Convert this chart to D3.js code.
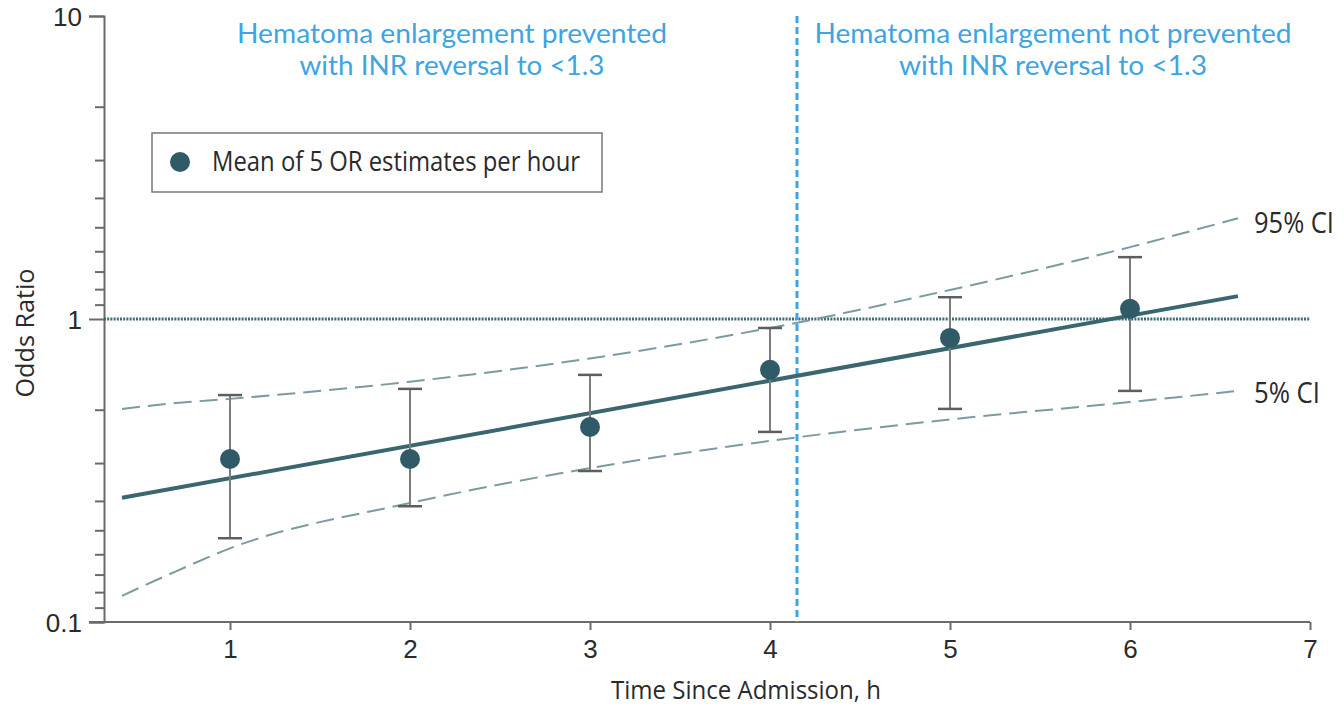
<!DOCTYPE html>
<html>
<head>
<meta charset="utf-8">
<script src="https://cdn.jsdelivr.net/npm/d3@7"></script>
<style>
  html, body { margin: 0; padding: 0; background: #fff; }
  svg { display: block; font-family: "Open Sans", "Noto Sans", sans-serif; }
  .title { font-family: Lato, "Open Sans", sans-serif; }
</style>
</head>
<body>
<svg id="chart" width="1344" height="706"></svg>
<script>
// Hours since admission with the mean OR per hour and its error bar range
const hours = [1, 2, 3, 4, 5, 6];
const meanOR = [0.345, 0.345, 0.44, 0.68, 0.866, 1.08];
const barLow = [0.189, 0.241, 0.315, 0.424, 0.505, 0.579];
const barHigh = [0.561, 0.588, 0.654, 0.934, 1.18, 1.6];

// Fitted trend (linear in log odds) at its two ends
const fitHours = [0.4, 6.6];
const fitOR = [0.257, 1.19];

// Confidence band curves
const bandHours = [0.4, 0.7, 1, 2, 3, 4, 5, 6, 6.6];
const ci95 = [0.505, 0.528, 0.545, 0.621, 0.741, 0.934, 1.247, 1.727, 2.15];
const ci5 = [0.122, 0.147, 0.175, 0.247, 0.322, 0.396, 0.466, 0.532, 0.579];

// Cut-off hour separating the two regions
const cutoffHour = 4.15;

// Axis ticks
const xTicks = [1, 2, 3, 4, 5, 6, 7];
const yMajorTicks = [0.1, 1, 10];
const yMajorLabels = ["0.1", "1", "10"];
const yMinorTicks = [10/2, 10/3, 10/4, 10/5, 10/6, 10/7, 10/8, 10/9,
                     1/2, 1/3, 1/4, 1/5, 1/6, 1/7, 1/8, 1/9];

const regionTitles = [
  ["Hematoma enlargement prevented", "with INR reversal to <1.3"],
  ["Hematoma enlargement not prevented", "with INR reversal to <1.3"]
];
const legendLabel = "Mean of 5 OR estimates per hour";

const svg = d3.select("#chart");
const x = d3.scaleLinear().domain([0.3, 7]).range([104, 1310]);
const y = d3.scaleLog().domain([0.1, 10]).range([622, 16]);

const teal = "#2f5a66";
const blue = "#3ea4e2";
const axisGrey = "#6a6a6a";
const textDark = "#2a2a2a";

// helper: text that is fitted to a given width
function fitText(sel, width) {
  sel.attr("textLength", width).attr("lengthAdjust", "spacingAndGlyphs");
  return sel;
}

// Y axis (log, major + minor ticks)
const yAxis = svg.append("g").attr("transform", `translate(${x(0.3)},0)`);
yAxis.call(d3.axisLeft(y).tickValues(yMajorTicks).tickSize(15)
  .tickFormat((d, i) => yMajorLabels[i]).tickPadding(7));
yAxis.selectAll(".domain").attr("stroke", axisGrey).attr("stroke-width", 2);
yAxis.selectAll(".tick line").attr("stroke", axisGrey).attr("stroke-width", 2);
yAxis.selectAll(".tick text").attr("fill", textDark)
  .style("font-size", "26px").attr("dy", "0.36em");
yAxis.selectAll(".minor").data(yMinorTicks).enter().append("line")
  .attr("class", "minor")
  .attr("x1", -9).attr("x2", 0)
  .attr("y1", d => y(d)).attr("y2", d => y(d))
  .attr("stroke", axisGrey).attr("stroke-width", 2);

// X axis
const xAxis = svg.append("g").attr("transform", `translate(0,${y(0.1)})`);
xAxis.call(d3.axisBottom(x).tickValues(xTicks).tickSize(8).tickPadding(10)
  .tickFormat(d3.format("d")));
xAxis.selectAll(".domain").attr("stroke", axisGrey).attr("stroke-width", 2)
  .attr("d", `M${x(0.3) - 15},0H${x(7)}`);
xAxis.selectAll(".tick line").attr("stroke", axisGrey).attr("stroke-width", 2);
xAxis.selectAll(".tick text").attr("fill", textDark).style("font-size", "26px");

// axis titles
fitText(svg.append("text")
  .attr("x", 746).attr("y", 699)
  .attr("text-anchor", "middle")
  .attr("fill", textDark)
  .style("font-size", "25px")
  .text("Time Since Admission, h"), 270);

fitText(svg.append("text")
  .attr("transform", "translate(34,333) rotate(-90)")
  .attr("text-anchor", "middle")
  .attr("fill", textDark)
  .style("font-size", "25px")
  .text("Odds Ratio"), 129);

// reference line at OR = 1
svg.append("line")
  .attr("x1", x(0.3)).attr("x2", x(7))
  .attr("y1", y(1)).attr("y2", y(1))
  .attr("stroke", "#3d6a73").attr("stroke-width", 3)
  .attr("stroke-dasharray", "2,1.2");

// region divider
svg.append("line")
  .attr("x1", x(cutoffHour)).attr("x2", x(cutoffHour))
  .attr("y1", y(10)).attr("y2", y(0.1))
  .attr("stroke", blue).attr("stroke-width", 3)
  .attr("stroke-dasharray", "7,4");

// confidence band curves
const bandLine = d3.line()
  .x(d => x(d[0])).y(d => y(d[1]))
  .curve(d3.curveMonotoneX);
[ci95, ci5].forEach(series => {
  svg.append("path")
    .attr("d", bandLine(bandHours.map((h, i) => [h, series[i]])))
    .attr("fill", "none")
    .attr("stroke", "#7b9ba0").attr("stroke-width", 2)
    .attr("stroke-dasharray", "18,8");
});

// fitted trend
svg.append("path")
  .attr("d", d3.line().x(d => x(d[0])).y(d => y(d[1]))(fitHours.map((h, i) => [h, fitOR[i]])))
  .attr("fill", "none")
  .attr("stroke", "#3a6670").attr("stroke-width", 4);

// error bars
const bars = svg.append("g");
hours.forEach((h, i) => {
  bars.append("line")
    .attr("x1", x(h)).attr("x2", x(h))
    .attr("y1", y(barLow[i])).attr("y2", y(barHigh[i]))
    .attr("stroke", "#7d7d7d").attr("stroke-width", 2);
  [barLow[i], barHigh[i]].forEach(v => {
    bars.append("line")
      .attr("x1", x(h) - 12).attr("x2", x(h) + 12)
      .attr("y1", y(v)).attr("y2", y(v))
      .attr("stroke", "#5e5e5e").attr("stroke-width", 2.5);
  });
});

// mean points
svg.append("g").selectAll("circle")
  .data(hours.map((h, i) => [h, meanOR[i]]))
  .enter().append("circle")
  .attr("cx", d => x(d[0])).attr("cy", d => y(d[1]))
  .attr("r", 10).attr("fill", teal);

// band labels
fitText(svg.append("text").attr("x", 1254).attr("y", 233)
  .attr("fill", textDark).style("font-size", "29px").text("95% CI"), 80);
fitText(svg.append("text").attr("x", 1254).attr("y", 403)
  .attr("fill", textDark).style("font-size", "29px").text("5% CI"), 66);

// region titles
const titleCenters = [452, 1053];
const titleWidths = [[430, 305], [477, 308]];
regionTitles.forEach((lines, k) => {
  lines.forEach((t, j) => {
    fitText(svg.append("text")
      .attr("class", "title")
      .attr("x", titleCenters[k]).attr("y", 43 + j * 32)
      .attr("text-anchor", "middle")
      .attr("fill", blue)
      .style("font-size", "26px")
      .text(t), titleWidths[k][j]);
  });
});

// legend
const legend = svg.append("g");
legend.append("rect")
  .attr("x", 152).attr("y", 133).attr("width", 450).attr("height", 59)
  .attr("fill", "#fff").attr("stroke", "#777").attr("stroke-width", 1.5);
legend.append("circle").attr("cx", 180).attr("cy", 162).attr("r", 10).attr("fill", teal);
fitText(legend.append("text")
  .attr("x", 212).attr("y", 171)
  .attr("fill", textDark)
  .style("font-size", "27px")
  .text(legendLabel), 368);
</script>
</body>
</html>
